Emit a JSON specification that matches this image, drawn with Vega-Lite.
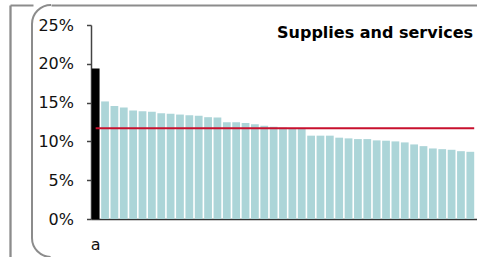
{
  "$schema": "https://vega.github.io/schema/vega-lite/v6.json",
  "width": 445,
  "height": 252,
  "autosize": "none",
  "padding": {"left": 32, "top": 5, "right": 0, "bottom": 0},
  "background": "white",
  "config": {
    "view": {"stroke": "#8c8c8c", "strokeWidth": 2, "cornerRadius": 19, "strokeDash": [0, 1087.7, 300]},
    "font": "DejaVu Sans"
  },
  "title": {
    "text": "Supplies and services",
    "anchor": "end",
    "frame": "group",
    "orient": "top",
    "offset": -50,
    "dx": -4,
    "baseline": "alphabetic",
    "font": "DejaVu Sans",
    "fontSize": 16,
    "fontWeight": "bold",
    "color": "#000000"
  },
  "data": {
    "values": [
      {"name": "a", "group": "a", "share": 0.194},
      {"name": "b01", "group": "others", "share": 0.1515},
      {"name": "b02", "group": "others", "share": 0.1455},
      {"name": "b03", "group": "others", "share": 0.1437},
      {"name": "b04", "group": "others", "share": 0.1398},
      {"name": "b05", "group": "others", "share": 0.1390},
      {"name": "b06", "group": "others", "share": 0.1381},
      {"name": "b07", "group": "others", "share": 0.1364},
      {"name": "b08", "group": "others", "share": 0.1355},
      {"name": "b09", "group": "others", "share": 0.1346},
      {"name": "b10", "group": "others", "share": 0.1338},
      {"name": "b11", "group": "others", "share": 0.1329},
      {"name": "b12", "group": "others", "share": 0.1312},
      {"name": "b13", "group": "others", "share": 0.1307},
      {"name": "b14", "group": "others", "share": 0.1247},
      {"name": "b15", "group": "others", "share": 0.1247},
      {"name": "b16", "group": "others", "share": 0.1238},
      {"name": "b17", "group": "others", "share": 0.1221},
      {"name": "b18", "group": "others", "share": 0.1203},
      {"name": "b19", "group": "others", "share": 0.1190},
      {"name": "b20", "group": "others", "share": 0.1178},
      {"name": "b21", "group": "others", "share": 0.1172},
      {"name": "b22", "group": "others", "share": 0.1170},
      {"name": "b23", "group": "others", "share": 0.1074},
      {"name": "b24", "group": "others", "share": 0.1074},
      {"name": "b25", "group": "others", "share": 0.1074},
      {"name": "b26", "group": "others", "share": 0.1048},
      {"name": "b27", "group": "others", "share": 0.1039},
      {"name": "b28", "group": "others", "share": 0.1030},
      {"name": "b29", "group": "others", "share": 0.1030},
      {"name": "b30", "group": "others", "share": 0.1013},
      {"name": "b31", "group": "others", "share": 0.1009},
      {"name": "b32", "group": "others", "share": 0.1000},
      {"name": "b33", "group": "others", "share": 0.0987},
      {"name": "b34", "group": "others", "share": 0.0961},
      {"name": "b35", "group": "others", "share": 0.0939},
      {"name": "b36", "group": "others", "share": 0.0909},
      {"name": "b37", "group": "others", "share": 0.0900},
      {"name": "b38", "group": "others", "share": 0.0892},
      {"name": "b39", "group": "others", "share": 0.0874},
      {"name": "b40", "group": "others", "share": 0.0866}
    ]
  },
  "layer": [
    {
      "layer": [
        {
          "mark": {"type": "bar"},
          "encoding": {
            "x": {
              "field": "name",
              "type": "nominal",
              "sort": null,
              "scale": {"range": [59, 445], "paddingInner": 0.17, "paddingOuter": 0.1915, "align": 0.22},
              "axis": {
                "orient": "bottom",
                "offset": -38,
                "values": ["a"],
                "title": null,
                "ticks": false,
                "labelAngle": 0,
                "labelPadding": 17,
                "labelFont": "DejaVu Sans",
                "labelFontSize": 16,
                "labelColor": "#111111",
                "domainColor": "#333333",
                "domainWidth": 1.5,
                "grid": false
              }
            },
            "y": {
              "field": "share",
              "type": "quantitative",
              "scale": {"domain": [0, 0.25], "range": [214, 20], "nice": false},
              "axis": {
                "orient": "left",
                "offset": -59,
                "values": [0, 0.05, 0.1, 0.15, 0.2, 0.25],
                "format": ".0%",
                "title": null,
                "grid": false,
                "domainColor": "#444444",
                "domainWidth": 1.5,
                "tickColor": "#444444",
                "tickWidth": 1.5,
                "tickSize": 4.5,
                "labelPadding": 13,
                "labelFont": "DejaVu Sans",
                "labelFontSize": 16,
                "labelColor": "#111111"
              }
            },
            "color": {
              "field": "group",
              "type": "nominal",
              "scale": {"domain": ["a", "others"], "range": ["#000000", "#acd5d8"]},
              "legend": null
            }
          }
        },
        {
          "data": {"values": [{"average": 0.1169}]},
          "mark": {"type": "rule", "color": "#c8102e", "strokeWidth": 2},
          "encoding": {
            "x": {"datum": "a", "type": "nominal", "bandPosition": 0.5},
            "x2": {"datum": "b40", "bandPosition": 1},
            "y": {"field": "average", "type": "quantitative"}
          }
        }
      ]
    },
    {
      "data": {"values": [{"v": 0}]},
      "mark": {"type": "rule", "opacity": 0},
      "encoding": {
        "x": {
          "field": "v",
          "type": "quantitative",
          "scale": {"domain": [0, 1], "range": [19, 445], "nice": false},
          "axis": {
            "orient": "top",
            "offset": 0,
            "labels": false,
            "ticks": false,
            "title": null,
            "grid": false,
            "domainColor": "#8c8c8c",
            "domainWidth": 2
          }
        },
        "y": {
          "field": "v",
          "type": "quantitative",
          "scale": {"domain": [0, 1], "range": [252, 0], "nice": false},
          "axis": {
            "orient": "left",
            "offset": 22,
            "values": [1],
            "labels": false,
            "title": null,
            "grid": false,
            "domainColor": "#8c8c8c",
            "domainWidth": 2.3,
            "tickColor": "#8c8c8c",
            "tickWidth": 2,
            "tickSize": -23
          }
        }
      }
    }
  ],
  "resolve": {"scale": {"x": "independent", "y": "independent"}, "axis": {"x": "independent", "y": "independent"}}
}
